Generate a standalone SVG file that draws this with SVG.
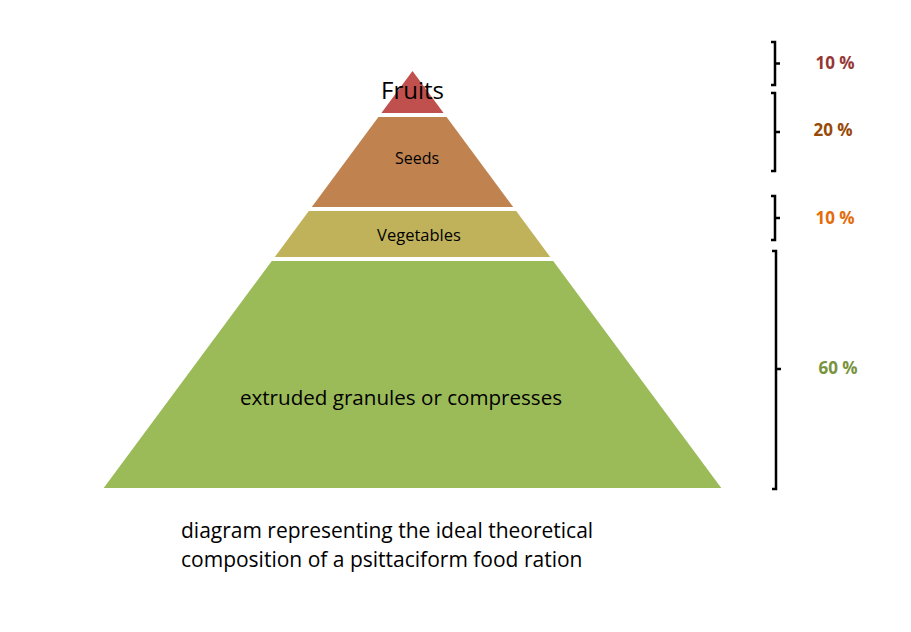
<svg xmlns="http://www.w3.org/2000/svg" width="911" height="632" viewBox="0 0 911 632">
<style>
.t{font-family:"Open Sans","Liberation Sans",sans-serif;fill:#000}
.p{font-family:"Open Sans","Liberation Sans",sans-serif;font-weight:bold;font-size:17px}
.br{fill:none;stroke:#000;stroke-width:2.5;stroke-linejoin:miter}
</style>
<rect width="911" height="632" fill="#fff"/>
<g id="fruits">
<polygon points="412.5,71 381.4,113 443.6,113" fill="#C0504D"/>
<text class="t" x="412.5" y="99" font-size="24" text-anchor="middle">Fruits</text>
</g>
<g id="seeds">
<polygon points="378.4,117 446.6,117 513.2,207 311.8,207" fill="#C0834F"/>
<text class="t" x="417" y="164" font-size="16" text-anchor="middle">Seeds</text>
</g>
<g id="vegetables">
<polygon points="308.8,211 516.2,211 550.2,257 274.8,257" fill="#C0B25A"/>
<text class="t" x="419" y="241" font-size="16.5" text-anchor="middle">Vegetables</text>
</g>
<g id="granules">
<polygon points="271.8,261 553.2,261 721.3,488 103.7,488" fill="#9BBB59"/>
<text class="t" x="401" y="405" font-size="20.6" text-anchor="middle">extruded granules or compresses</text>
</g>
<g id="connectors">
<path class="br" d="M771,42 H775 V85 H771 M775,63.5 H780"/>
<path class="br" d="M771,93 H775 V171 H771 M775,132 H780"/>
<path class="br" d="M771,196 H775 V240 H771 M775,218 H780"/>
<path class="br" d="M772,251 H776 V489 H772 M776,369 H781"/>
</g>
<g id="labels">
<text class="p" x="835" y="69" fill="#953735" text-anchor="middle">10 %</text>
<text class="p" x="833" y="136" fill="#984807" text-anchor="middle">20 %</text>
<text class="p" x="835" y="224" fill="#E46C0A" text-anchor="middle">10 %</text>
<text class="p" x="838" y="374" fill="#77933C" text-anchor="middle">60 %</text>
</g>
<g id="caption">
<text class="t" x="181" y="538" font-size="21">diagram representing the ideal theoretical</text>
<text class="t" x="181" y="567" font-size="21">composition of a psittaciform food ration</text>
</g>
</svg>
